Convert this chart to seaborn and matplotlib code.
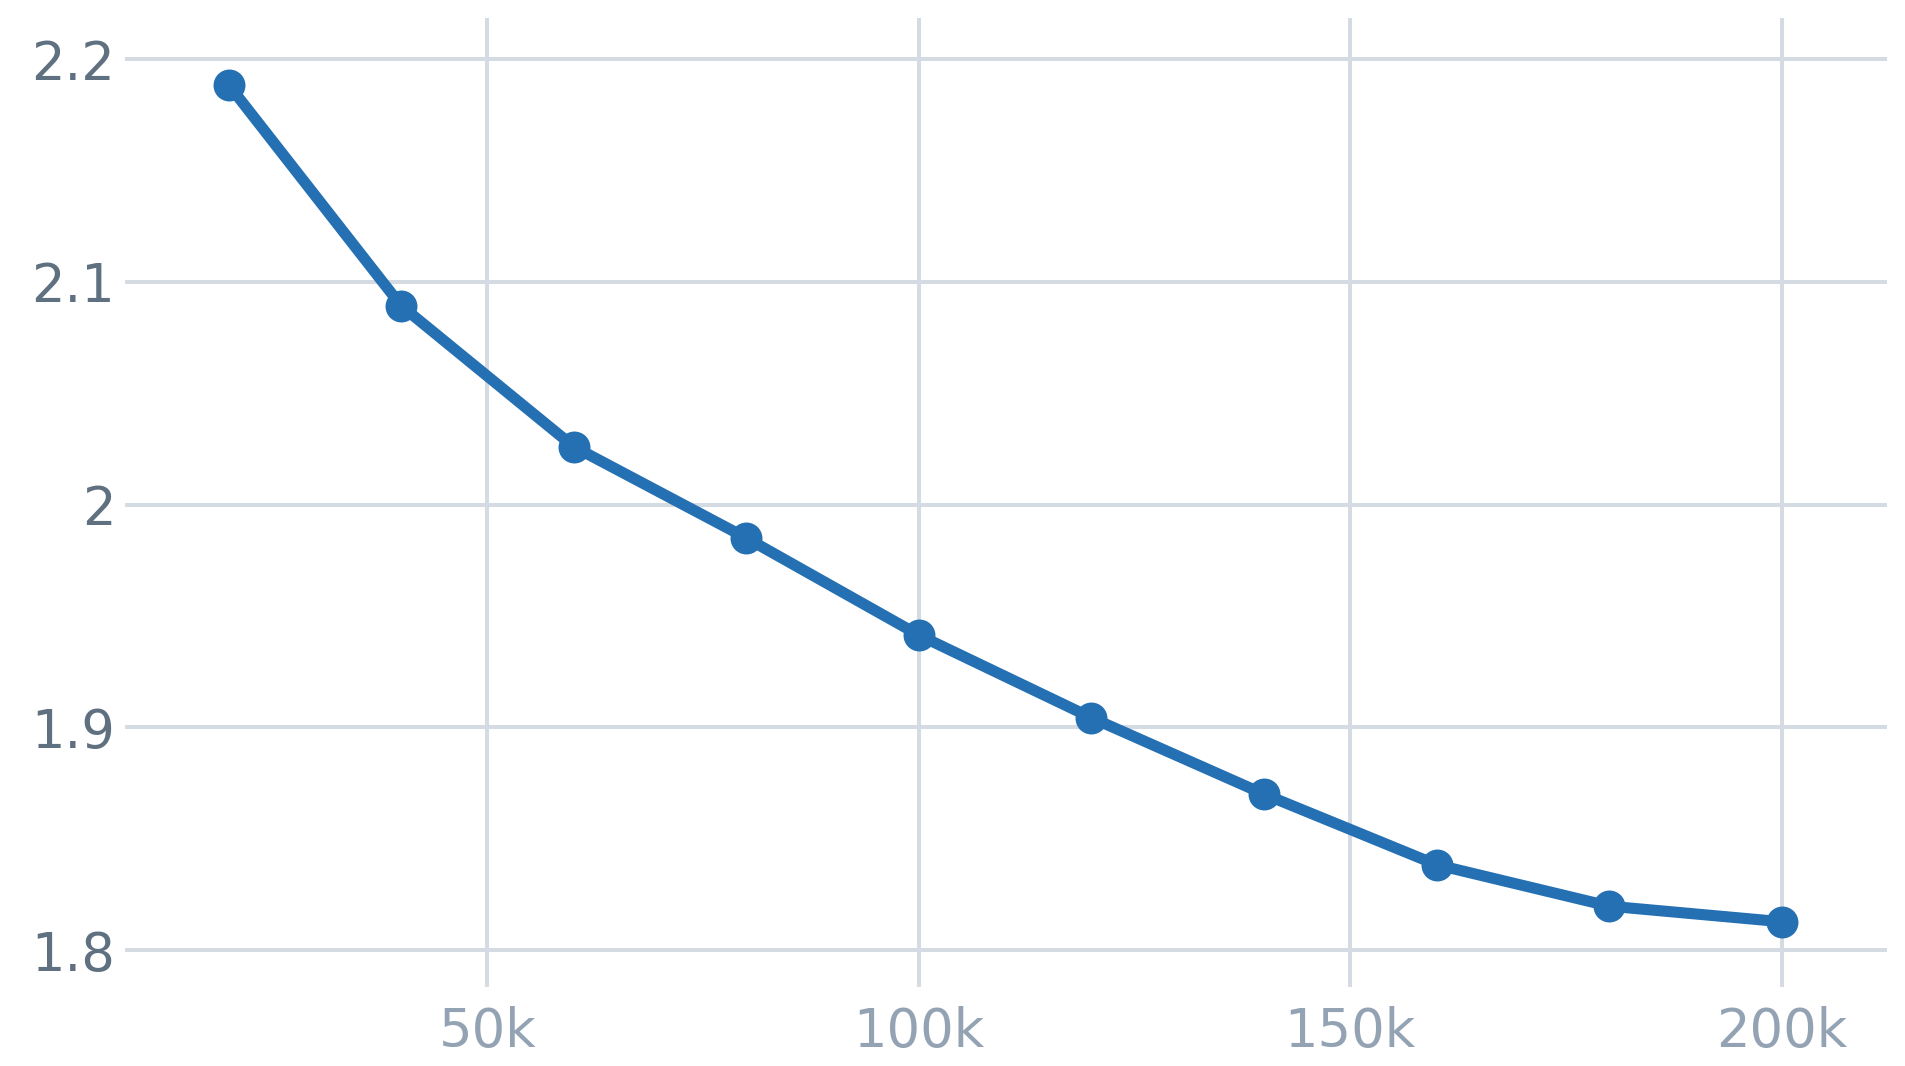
import pandas as pd
import seaborn as sns
import matplotlib.pyplot as plt
from matplotlib.ticker import FuncFormatter

steps = [20000, 40000, 60000, 80000, 100000, 120000, 140000, 160000, 180000, 200000]
loss = [2.1885, 2.0893, 2.026, 1.985, 1.9414, 1.9043, 1.870, 1.8383, 1.8197, 1.8127]

x_ticks = [50000, 100000, 150000, 200000]
y_ticks = [1.8, 1.9, 2.0, 2.1, 2.2]

df = pd.DataFrame({'step': steps, 'loss': loss})

sns.set_theme(style='white')
plt.rcParams['font.family'] = ['DejaVu Sans']

fig = plt.figure(figsize=(19.06, 10.66), dpi=100)
ax = fig.add_axes([0.0656, 0.0741, 0.9244, 0.9089])

sns.lineplot(data=df, x='step', y='loss', ax=ax, color='#2470b3',
             marker='o', zorder=3)
# seaborn keeps its own defaults for width/size, so set them on the line
line = ax.lines[0]
line.set_linewidth(8)
line.set_markersize(23)
line.set_markeredgewidth(0)

ax.set_xlim(8000, 212200)
ax.set_ylim(1.7834, 2.2184)
ax.set_xticks(x_ticks)
ax.set_yticks(y_ticks)
ax.xaxis.set_major_formatter(FuncFormatter(lambda v, p: f'{int(v / 1000)}k'))
ax.yaxis.set_major_formatter(FuncFormatter(lambda v, p: f'{v:g}'))

ax.grid(True, color='#d4dbe3', linewidth=2.9)
ax.set_axisbelow(True)
for s in ax.spines.values():
    s.set_visible(False)
ax.tick_params(axis='y', length=0, pad=7, labelsize=38, labelcolor='#5f7080')
ax.tick_params(axis='x', length=0, pad=14, labelsize=38, labelcolor='#94a3b3')
ax.set_xlabel('')
ax.set_ylabel('')

fig.savefig('out.png', dpi=100)
